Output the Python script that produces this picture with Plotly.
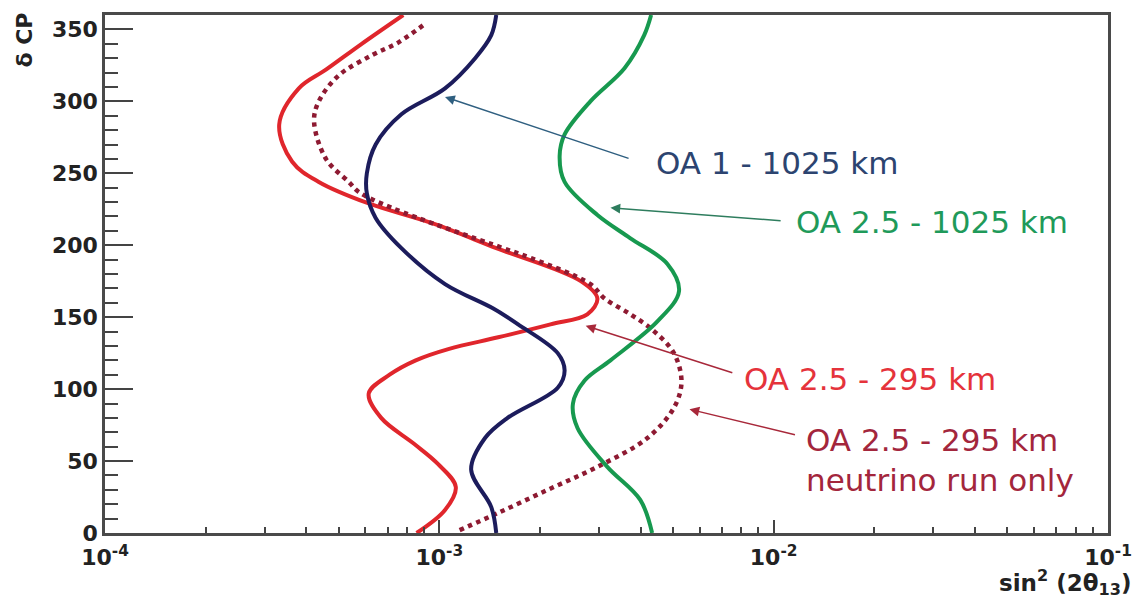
import plotly.graph_objects as go
import math

# ---------------- data ----------------
delta_red = [0, 16, 32, 48, 62, 80, 97, 110, 120, 128, 136, 145, 152, 163, 175, 198, 215, 229, 244, 258, 284, 309, 322, 340, 360]
red_vals = [8.55e-4, 1.04e-3, 1.12e-3, 9.9e-4, 8.4e-4, 6.7e-4, 6.15e-4, 7.1e-4, 8.5e-4, 1.07e-3, 1.5e-3, 2.15e-3,
            2.77e-3, 2.97e-3, 2.65e-3, 1.48e-3, 9.6e-4, 6.15e-4, 4.36e-4, 3.63e-4, 3.32e-4, 3.8e-4, 4.58e-4, 5.86e-4, 7.8e-4]

delta_blue = [0, 18, 44, 66, 80, 101, 113, 125, 145, 156, 173, 198, 219, 236, 250, 270, 291, 309, 330, 346, 360]
blue_vals = [1.48e-3, 1.43e-3, 1.245e-3, 1.37e-3, 1.6e-3, 2.26e-3, 2.37e-3, 2.26e-3, 1.72e-3, 1.45e-3, 1.04e-3,
             7.7e-4, 6.45e-4, 6.07e-4, 6.07e-4, 6.45e-4, 7.7e-4, 1.04e-3, 1.28e-3, 1.43e-3, 1.48e-3]

delta_green = [0, 23, 46, 73, 90, 106, 120, 147, 168, 187, 205, 221, 244, 262, 277, 300, 323, 346, 360]
green_vals = [4.33e-3, 3.99e-3, 3.18e-3, 2.59e-3, 2.51e-3, 2.72e-3, 3.25e-3, 4.49e-3, 5.21e-3, 4.81e-3, 3.72e-3,
              2.97e-3, 2.37e-3, 2.29e-3, 2.37e-3, 2.83e-3, 3.58e-3, 4.1e-3, 4.3e-3]

delta_nu = [2, 14, 30, 46, 66, 87, 105, 125, 140, 152, 163, 173, 191, 198, 226, 237, 244, 260, 286, 300, 318, 332, 341, 354]
nu_vals = [1.15e-3, 1.5e-3, 2.11e-3, 2.97e-3, 4.19e-3, 5.03e-3, 5.3e-3, 5.03e-3, 4.4e-3, 3.73e-3, 3.12e-3, 2.83e-3,
           1.88e-3, 1.55e-3, 7.2e-4, 5.74e-4, 5.36e-4, 4.58e-4, 4.22e-4, 4.36e-4, 5.0e-4, 6.28e-4, 7.55e-4, 9.08e-4]

x_tickvals = [1e-4, 1e-3, 1e-2, 1e-1]
x_ticktext = ["10<sup>-4</sup>", "10<sup>-3</sup>", "10<sup>-2</sup>", "10<sup>-1</sup>"]
y_tickvals = [0, 50, 100, 150, 200, 250, 300, 350]

# label placement: (text, colour, text_x, text_y, arrow_tip_x, arrow_tip_y, arrow_tail_x, arrow_tail_y, arrow_colour)
labels = [
    ("OA 1 - 1025 km", "#2c4470", 4.4e-3, 257, 1.04e-3, 303, 3.72e-3, 260, "#2f5f80"),
    ("OA 2.5 - 1025 km", "#1f9a5a", 1.148e-2, 216, 3.25e-3, 226, 1.06e-2, 217, "#2e7d5e"),
    ("OA 2.5 - 295 km", "#e5333b", 8.03e-3, 107, 2.74e-3, 144, 7.6e-3, 111, "#a8283a"),
    ("OA 2.5 - 295 km<br>neutrino run only", "#a3263c", 1.236e-2, 51, 5.6e-3, 86, 1.17e-2, 68, "#a8283a"),
]

# ---------------- figure ----------------
fig = go.Figure()
fig.add_trace(go.Scatter(x=red_vals, y=delta_red, mode="lines", line=dict(color="#e0262c", width=4, shape="spline"),
                         name="OA 2.5 - 295 km"))
fig.add_trace(go.Scatter(x=nu_vals, y=delta_nu, mode="lines",
                         line=dict(color="#8e1a32", width=4.5, shape="spline", dash="dot"),
                         name="OA 2.5 - 295 km neutrino run only"))
fig.add_trace(go.Scatter(x=blue_vals, y=delta_blue, mode="lines", line=dict(color="#1c1c5c", width=4, shape="spline"),
                         name="OA 1 - 1025 km"))
fig.add_trace(go.Scatter(x=green_vals, y=delta_green, mode="lines", line=dict(color="#17994f", width=4, shape="spline"),
                         name="OA 2.5 - 1025 km"))

annotations = []
for text, col, tx, ty, hx, hy, sx, sy, acol in labels:
    annotations.append(dict(x=math.log10(hx), y=hy, xref="x", yref="y",
                            ax=math.log10(sx), ay=sy, axref="x", ayref="y",
                            text="", showarrow=True, arrowhead=2, arrowsize=1.3, arrowwidth=1.5,
                            arrowcolor=acol, standoff=0, startstandoff=0))
    annotations.append(dict(x=math.log10(tx), y=ty, xref="x", yref="y", text=text, showarrow=False,
                            xanchor="left", yanchor="middle", align="left",
                            font=dict(family="DejaVu Sans", size=31, color=col)))

annotations.append(dict(x=-0.080, y=0.952, xref="paper", yref="paper", text="δ CP", textangle=-90,
                        showarrow=False, xanchor="center", yanchor="middle",
                        font=dict(family="DejaVu Sans", size=22, color="#222", weight="bold")))
annotations.append(dict(x=1.0245, y=-0.095, xref="paper", yref="paper",
                        text="sin<sup>2</sup> (2θ<sub>13</sub>)",
                        showarrow=False, xanchor="right", yanchor="middle",
                        font=dict(family="DejaVu Sans", size=23, color="#222", weight="bold")))

tick_font = dict(family="DejaVu Sans", size=22, color="#222", weight="bold")
fig.update_layout(
    width=1144, height=599,
    margin=dict(l=105, r=31, t=13, b=66),
    paper_bgcolor="white", plot_bgcolor="white",
    showlegend=False,
    annotations=annotations,
    xaxis=dict(type="log", range=[-4, -1], tickvals=x_tickvals, ticktext=x_ticktext,
               ticks="inside", ticklen=13, tickwidth=1.5, tickcolor="#444",
               minor=dict(ticks="inside", ticklen=6, tickwidth=1.5, tickcolor="#444", dtick="D1", showgrid=False),
               showgrid=False, zeroline=False, showline=True, mirror=True, linecolor="#4a4a4a", linewidth=2.5,
               tickfont=tick_font, ticklabelstandoff=3),
    yaxis=dict(range=[0, 360], tickvals=y_tickvals, ticks="inside", ticklen=28, tickwidth=1.5, tickcolor="#444",
               minor=dict(ticks="inside", ticklen=13, tickwidth=1.5, tickcolor="#444", dtick=10, showgrid=False),
               showgrid=False, zeroline=False, showline=True, mirror=True, linecolor="#4a4a4a", linewidth=2.5,
               tickfont=tick_font),
)

fig.write_html("out.html", config={"displayModeBar": False},
               post_script="document.body.style.margin='0px';")
